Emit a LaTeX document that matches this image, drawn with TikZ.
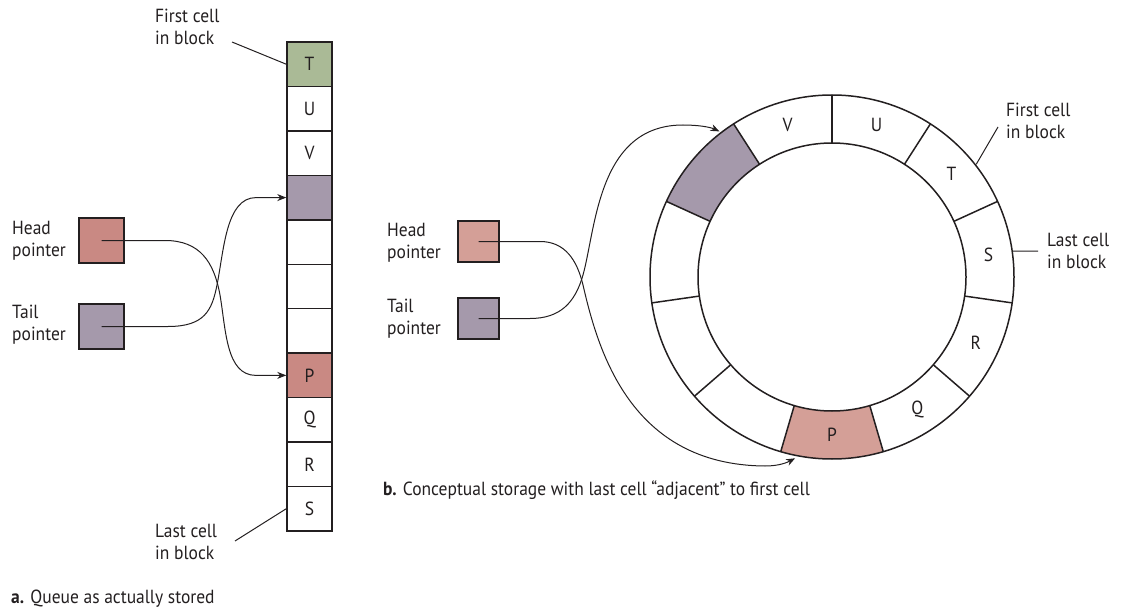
\documentclass[tikz,border=0pt]{standalone}
\usepackage{fontspec}
\setmainfont{PT Sans}[FakeStretch=0.92]
\usetikzlibrary{arrows.meta,positioning,calc}
\usepackage{xcolor}
\definecolor{inkgray}{RGB}{35,31,32}
\definecolor{cellgreen}{RGB}{170,186,150}
\definecolor{tailpurple}{RGB}{165,153,171}
\definecolor{headrose}{RGB}{201,137,131}
\definecolor{headpink}{RGB}{212,159,151}

\begin{document}
\begin{tikzpicture}[x=1pt,y=-1pt,
  % Text labels, top-left anchored
  lbl/.style={inner sep=0pt,align=left,anchor=north west,text=inkgray,
              font=\fontsize{19}{22}\selectfont},
  % One storage cell of the block
  cell/.style={draw=inkgray,line width=1.5pt,minimum width=45pt,
               minimum height=44.45pt,inner sep=0pt,text=inkgray,
               font=\fontsize{19}{22}\selectfont},
  % Head / tail pointer boxes
  ptr/.style={draw=inkgray,line width=1.5pt,minimum size=45pt,inner sep=0pt},
  ptrb/.style={ptr,minimum size=41pt},
  link/.style={draw=inkgray,line width=1pt},
  arr/.style={link,-{Stealth[length=9pt,width=7pt]}},
  ring/.style={draw=inkgray,line width=1.5pt}
]
  \useasboundingbox (0,0) rectangle (1125,615);

  % ---- a. Block as stored (11 cells, 44.45 per step) ----
  \foreach \txt/\col [count=\i] in {T/cellgreen,U/white,V/white,/tailpurple,
      /white,/white,/white,P/headrose,Q/white,R/white,S/white}
    \node[cell,fill=\col] (c\i) at (309.5,{42+(\i-0.5)*44.45}) {\txt};

  \node[ptr,fill=headrose]   (head-a) at (101.5,240.5) {};
  \node[ptr,fill=tailpurple] (tail-a) at (101.5,326.5) {};
  \node[lbl] (head-a-lbl)  at (12,221)  {Head\\pointer};
  \node[lbl] (tail-a-lbl)  at (12,305)  {Tail\\pointer};
  \node[lbl] (first-a-lbl) at (155,9)   {First cell\\in block};
  \node[lbl] (last-a-lbl)  at (155,524) {Last cell\\in block};
  \node[lbl] (cap-a)       at (11,590)  {\textbf{a.} Queue as actually stored};

  \coordinate (first-a-end) at (232,42);
  \coordinate (last-a-end)  at (235,541);
  \draw[link] (first-a-end) -- (c1.west);
  \draw[link] (last-a-end)  -- (c11.west);

  % Crossing pointers
  \draw[arr] (head-a.center) -- (165,240.5)
    .. controls (200,240.5) and (214,262) .. (220,295)
    .. controls (226,330) and (226,375.4) .. (256,375.4) -- (c8.west);
  \draw[arr] (tail-a.center) -- (168,326.5)
    .. controls (205,326.5) and (212,310) .. (217,285)
    .. controls (224,250) and (226,197.6) .. (256,197.6) -- (c4.west);

  % ---- b. Same block bent into a ring ----
  \begin{scope}[shift={(832,277)},y=1pt]
    \fill[tailpurple] (122.73:182) arc[start angle=122.73,end angle=155.45,radius=182]
      -- (155.45:134) arc[start angle=155.45,end angle=122.73,radius=134] -- cycle;
    \fill[headpink] (-106.36:182) arc[start angle=-106.36,end angle=-73.64,radius=182]
      -- (-73.64:134) arc[start angle=-73.64,end angle=-106.36,radius=134] -- cycle;
    \draw[ring] (0,0) circle[radius=182];
    \draw[ring] (0,0) circle[radius=134];
    \foreach \k in {0,...,10}
      \draw[ring] ({90-\k*32.727}:134) -- ({90-\k*32.727}:182);
    \foreach \txt [count=\k] in {U,T,S,R,Q,P,,,,,V}
      \node[text=inkgray,font=\fontsize{19}{22}\selectfont] (r\k)
        at ({106.36-\k*32.727}:158) {\txt};

    \coordinate (first-b-end) at (166,150);
    \coordinate (last-b-end)  at (206,26);
    \coordinate (ring-tail)   at (127.7:184);
    \coordinate (ring-head)   at (-101.5:185);
    \draw[link] (38:183) -- (first-b-end);
    \draw[link] (8.2:182) -- (last-b-end);
  \end{scope}

  \node[ptrb,fill=headpink]   (head-b) at (478.5,241.5) {};
  \node[ptrb,fill=tailpurple] (tail-b) at (478.5,318.5) {};
  \node[lbl] (head-b-lbl)  at (387,223)  {Head\\pointer};
  \node[lbl] (tail-b-lbl)  at (387,299)  {Tail\\pointer};
  \node[lbl] (first-b-lbl) at (1006,103) {First cell\\in block};
  \node[lbl] (last-b-lbl)  at (1047,233) {Last cell\\in block};
  \node[lbl] (cap-b)       at (383,481)
    {\textbf{b.} Conceptual storage with last cell “adjacent” to first cell};

  \draw[arr] (head-b.center) -- (540,241.5)
    .. controls (565,241.5) and (577,260) .. (583,285)
    .. controls (598,350) and (630,465) .. (765,466)
    .. controls (780,466) and (788,462) .. (ring-head);
  \draw[arr] (tail-b.center) -- (530,318.5)
    .. controls (560,318.5) and (575,303) .. (583,275)
    .. controls (596,228) and (598,125) .. (683,125)
    .. controls (698,125) and (710,127) .. (ring-tail);
\end{tikzpicture}
\end{document}
